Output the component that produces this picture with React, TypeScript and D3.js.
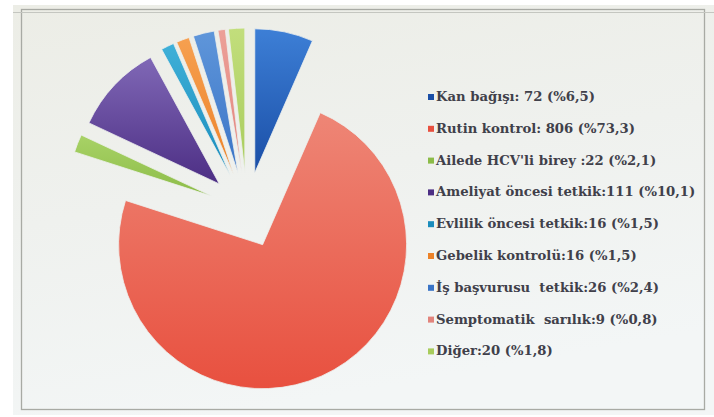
import React from "react";
import * as d3 from "d3";

const categories = [
  "Kan bağışı",
  "Rutin kontrol",
  "Ailede HCV'li birey",
  "Ameliyat öncesi tetkik",
  "Evlilik öncesi tetkik",
  "Gebelik kontrolü",
  "İş başvurusu  tetkik",
  "Semptomatik  sarılık",
  "Diğer",
];
const values = [72, 806, 22, 111, 16, 16, 26, 9, 20];
const legendLabels = [
  "Kan bağışı: 72 (%6,5)",
  "Rutin kontrol: 806 (%73,3)",
  "Ailede HCV'li birey :22 (%2,1)",
  "Ameliyat öncesi tetkik:111 (%10,1)",
  "Evlilik öncesi tetkik:16 (%1,5)",
  "Gebelik kontrolü:16 (%1,5)",
  "İş başvurusu  tetkik:26 (%2,4)",
  "Semptomatik  sarılık:9 (%0,8)",
  "Diğer:20 (%1,8)",
];
const colorsLight = ["#3d7fd6", "#ee8676", "#a8d266", "#8068b6", "#3fb0d8", "#f6a050", "#5f96da", "#eca098", "#c2de7c"];
const colorsDark = ["#1a4ea6", "#e8503f", "#8cbc48", "#4c2e84", "#1a8cbc", "#ec8228", "#3a74c6", "#e2847c", "#a8cc5c"];

const W = 714;
const H = 417;
const cx = 247;
const cy = 210;
const R = 144;
const explode = 38;

export default function App() {
  const data = categories.map((c, i) => ({ c, v: values[i], i }));
  const pie = d3.pie<any>().sort(null).value((d) => d.v).startAngle(0).endAngle(2 * Math.PI);
  const arcs = pie(data);
  const arcGen = d3.arc<any>().innerRadius(0).outerRadius(R);

  const legendX = 428;
  const legendY0 = 96;
  const legendStep = 31.8;

  return (
    <div style={{ position: "absolute", left: 0, top: 0, width: W, height: H }}>
      <svg width={W} height={H} style={{ display: "block" }}>
        <defs>
          <linearGradient id="bg" x1="0" y1="0" x2="0.3" y2="1">
            <stop offset="0%" stopColor="#ecede6" />
            <stop offset="50%" stopColor="#eff1ee" />
            <stop offset="100%" stopColor="#f3f6f6" />
          </linearGradient>
          {arcs.map((a, i) => (
            <linearGradient key={i} id={`g${i}`} x1="0" y1="0" x2="0" y2="1">
              <stop offset="0%" stopColor={colorsLight[i]} />
              <stop offset="100%" stopColor={colorsDark[i]} />
            </linearGradient>
          ))}
        </defs>
        <rect x={0} y={0} width={W} height={H} fill="#ffffff" />
        <rect x={13} y={5} width={W - 13} height={H - 7} fill="url(#bg)" />
        <rect x={21.5} y={9.5} width={683} height={400} fill="none" stroke="#a8aaa4" strokeWidth={1.3} />
        <line x1={13} y1={12.5} x2={W} y2={12.5} stroke="#c4c6c0" strokeWidth={1} />
        <g transform={`translate(${cx},${cy})`}>
          {arcs.map((a, i) => {
            const mid = (a.startAngle + a.endAngle) / 2;
            const dx = Math.sin(mid) * explode;
            const dy = -Math.cos(mid) * explode;
            return (
              <path
                key={i}
                d={arcGen(a) as string}
                transform={`translate(${dx},${dy})`}
                fill={`url(#g${i})`}
                stroke="#eef0ee"
                strokeWidth={0.8}
              />
            );
          })}
        </g>
        <g>
          {legendLabels.map((t, i) => {
            const y = legendY0 + i * legendStep;
            return (
              <g key={i}>
                <rect x={legendX} y={y - 2} width={6} height={6} fill={colorsDark[i]} />
                <text
                  x={legendX + 8}
                  y={y + 5}
                  fontFamily="'DejaVu Serif', serif"
                  fontWeight="bold"
                  fontSize={13.2}
                  fill="#40404a"
                  style={{ whiteSpace: "pre" }}
                >
                  {t}
                </text>
              </g>
            );
          })}
        </g>
      </svg>
    </div>
  );
}
